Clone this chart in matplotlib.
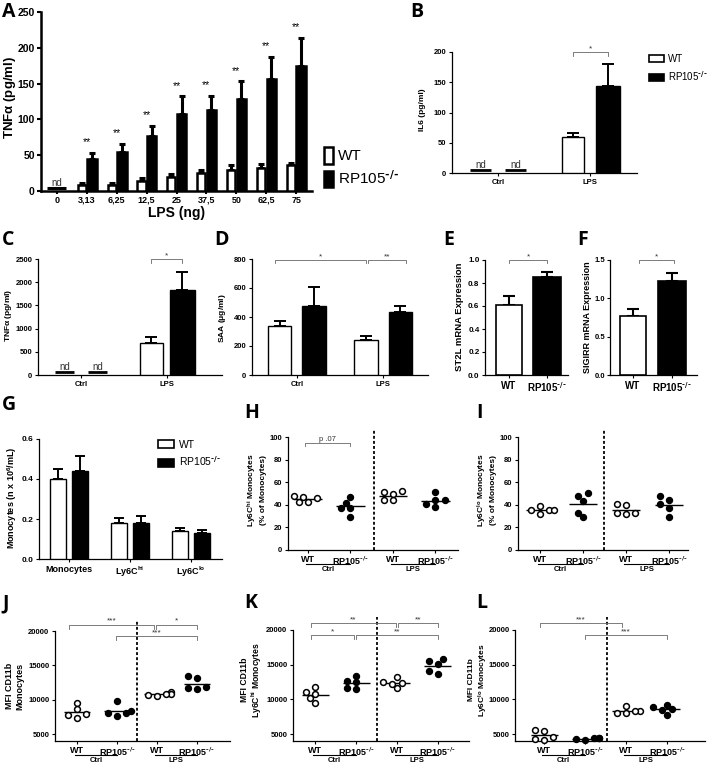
import numpy as np
import matplotlib.pyplot as plt
from matplotlib.patches import Patch
from matplotlib.ticker import FormatStrFormatter

plt.rcParams['font.family'] = ['Liberation Sans', 'DejaVu Sans']
plt.rcParams['mathtext.default'] = 'regular'
plt.rcParams['font.weight'] = 'bold'

KO = r'RP105$^{\text{-/-}}$'

# ---------------- data ----------------
# A: TNFa vs LPS dose (in vitro)
lps_doses = ['0', '3,13', '6,25', '12,5', '25', '37,5', '50', '62,5', '75']
a_wt = [np.nan, 8, 8, 14, 20, 25, 29, 32, 36]
a_wt_err = [0, 3, 3, 4, 4, 4, 7, 6, 3]
a_rp = [np.nan, 45, 55, 77, 108, 113, 128, 156, 174]
a_rp_err = [0, 8, 11, 14, 24, 20, 25, 31, 40]
a_stars = ['', '**', '**', '**', '**', '**', '**', '**', '**']
a_nd = 4

treat = ['Ctrl', 'LPS']
# B: IL6
b_wt = [np.nan, 60]
b_wt_err = [0, 6]
b_rp = [np.nan, 144]
b_rp_err = [0, 36]
b_nd = 5
# C: TNFa plasma
c_wt = [np.nan, 700]
c_wt_err = [0, 110]
c_rp = [np.nan, 1840]
c_rp_err = [0, 380]
c_nd = 60
# D: SAA
d_wt = [338, 240]
d_wt_err = [35, 30]
d_rp = [478, 432]
d_rp_err = [130, 42]
# E, F: mRNA expression
geno = ['WT', KO]
e_vals = [0.61, 0.85]
e_err = [0.08, 0.05]
f_vals = [0.77, 1.22]
f_err = [0.09, 0.11]
# G: monocyte counts
g_groups = ['Monocytes', r'Ly6C$^{hi}$', r'Ly6C$^{lo}$']
g_wt = [0.40, 0.18, 0.14]
g_wt_err = [0.05, 0.025, 0.015]
g_rp = [0.44, 0.18, 0.13]
g_rp_err = [0.075, 0.035, 0.015]

# H-L: individual mice (WT ctrl, RP ctrl, WT LPS, RP LPS)
h_wt_ctrl = [46, 48, 47, 42.5, 42.5]
h_rp_ctrl = [37.5, 42, 47, 29, 37]
h_wt_lps = [51, 50, 52, 44, 44]
h_rp_lps = [44, 51, 44, 38, 41]

i_wt_ctrl = [35, 38.5, 35, 32, 35]
i_rp_ctrl = [47.5, 50.5, 43, 33, 29]
i_wt_lps = [40.5, 39.5, 33, 31.5, 33]
i_rp_lps = [41, 44.5, 47.5, 37.5, 29]

j_wt_ctrl = [9550, 8600, 7900, 7400, 7800]
j_rp_ctrl = [9800, 8100, 7700, 8100, 8400]
j_wt_lps = [11200, 10900, 10700, 10500, 10800]
j_rp_lps = [13400, 13200, 11500, 11700, 11800]

k_wt_ctrl = [11800, 11100, 10800, 10200, 9500]
k_rp_ctrl = [12600, 12500, 13400, 11500, 11700]
k_wt_lps = [13200, 12300, 12500, 11600, 12200]
k_rp_lps = [15550, 15750, 15150, 13600, 14100]

l_wt_ctrl = [5600, 5400, 4600, 4300, 4200]
l_rp_ctrl = [4400, 4500, 4400, 4200, 4300]
l_wt_lps = [9000, 8300, 8100, 8300, 8000]
l_rp_lps = [9200, 8900, 8500, 8600, 7800]

scatter_labels = ['WT', KO, 'WT', KO]

# ---------------- helpers ----------------
W, H = 708, 765
fig = plt.figure(figsize=(W / 100, H / 100), dpi=100)


def add_ax(l, t, r, b, lw=0.9):
    ax = fig.add_axes([l / W, 1 - b / H, (r - l) / W, (b - t) / H])
    ax.spines[['top', 'right']].set_visible(False)
    ax.spines[['left', 'bottom']].set_linewidth(lw)
    ax.px = (r - l, b - t)
    return ax


def letter(x, y, s):
    fig.text(x / W, 1 - y / H, s, fontsize=14, fontweight='bold',
             family='Open Sans', va='top', ha='left')


def ylab(x, y, s, fs=6):
    fig.text(x / W, 1 - y / H, s, fontsize=fs, fontweight='bold',
             rotation=90, ha='center', va='center', linespacing=1.15)


def bars(ax, x, vals, errs, face, width, lw=1.0, cap=3):
    x = np.asarray(x, float)
    vals = np.asarray(vals, float)
    errs = np.asarray(errs, float)
    m = ~np.isnan(vals)
    ax.bar(x[m], vals[m], width, color=face, edgecolor='black',
           linewidth=lw, zorder=3)
    ax.errorbar(x[m], vals[m], yerr=[np.zeros(m.sum()), errs[m]], fmt='none',
                ecolor='black', elinewidth=lw + 0.4, capsize=cap,
                capthick=lw + 0.4, zorder=2)


def nd(ax, x, level, width, fs=7, lw=2):
    ax.hlines(level, x - width / 2, x + width / 2, color='black', lw=lw,
              zorder=3)
    ax.text(x, level, 'nd', ha='center', va='bottom', fontsize=fs,
            fontweight='normal', color='#333333')


def bracket(ax, x1, x2, y, h, s, fs=6):
    ax.plot([x1, x1, x2, x2], [y - h, y, y, y - h], color='#666666',
            lw=0.6, clip_on=False)
    ax.text((x1 + x2) / 2, y, s, ha='center', va='bottom', fontsize=fs,
            fontweight='normal', color='#333333')


def style_ticks(ax, fs):
    ax.tick_params(labelsize=fs, width=0.8, length=2.5, pad=1.5)


def swarm(ax, vals, xlim, ylim, d=6.2):
    sx = ax.px[0] / (xlim[1] - xlim[0])
    sy = ax.px[1] / (ylim[1] - ylim[0])
    placed = []
    offs = np.zeros(len(vals))
    for i in np.argsort(vals):
        y = vals[i] * sy
        for c in [0, -1, 1, -2, 2, -3, 3]:
            cx = c * d * 0.75
            if all(np.hypot(cx - px, y - py) >= d for px, py in placed):
                break
        placed.append((cx, y))
        offs[i] = cx / sx
    return offs


def scatter_panel(ax, groups, xlim, ylim, yticks, vline, vtop, fs=5.5):
    for i, vals in enumerate(groups):
        vals = np.asarray(vals, float)
        offs = swarm(ax, vals, xlim, ylim)
        filled = i % 2 == 1
        ax.plot(i + offs, vals, 'o', ms=4.2,
                mfc='black' if filled else 'white', mec='black', mew=1.1,
                ls='none', zorder=3, clip_on=False)
        ax.hlines(vals.mean(), i - 0.33, i + 0.33, color='black', lw=1.0,
                  zorder=2)
    ax.set_xlim(*xlim)
    ax.set_ylim(*ylim)
    ax.set_yticks(yticks)
    ax.set_xticks(range(4))
    ax.set_xticklabels(scatter_labels)
    style_ticks(ax, fs)
    ax.tick_params(axis='x', labelsize=6.5, length=2)
    ax.plot([vline, vline], [ylim[0], vtop], color='black',
            ls=(0, (1.6, 1.2)), lw=1.3, clip_on=False)
    tr = ax.get_xaxis_transform()
    yl = -14 / ax.px[1]
    for p0, name in [(0, 'Ctrl'), (2, 'LPS')]:
        ax.plot([p0 - 0.05, p0 + 1.0], [yl, yl], color='black', lw=0.8,
                transform=tr, clip_on=False)
        ax.text(p0 + 0.48, yl - 2 / ax.px[1], name, transform=tr,
                ha='center', va='top', fontsize=5.5)


# ---------------- A ----------------
ax = add_ax(41, 12, 312, 191, lw=1.8)
x = np.arange(len(lps_doses))
bars(ax, x - 0.17, a_wt, a_wt_err, 'white', 0.27, lw=1.8, cap=2.5)
bars(ax, x + 0.17, a_rp, a_rp_err, 'black', 0.32, lw=1.8, cap=2.5)
nd(ax, 0, a_nd, 0.64, fs=7, lw=2.2)
for i, s in enumerate(a_stars):
    if s:
        ax.text(i, a_rp[i] + a_rp_err[i] + 8, s, ha='center', va='bottom',
                fontsize=7.5, fontweight='normal')
ax.set_xlim(-0.53, 8.53)
ax.set_ylim(0, 250)
ax.set_yticks(np.arange(0, 251, 50))
ax.set_xticks(x)
ax.set_xticklabels(lps_doses)
ax.tick_params(labelsize=7.5, width=1.5, length=3, pad=1.5)
ax.tick_params(axis='x', labelsize=6.5, length=2)
letter(2, 2, 'A')
ylab(10, 97, r'TNF$\alpha$ (pg/ml)', fs=9.5)
fig.text(177 / W, 1 - 213 / H, 'LPS (ng)', fontsize=10, fontweight='bold',
         ha='center', va='center')
fig.legend([Patch(fc='white', ec='black', lw=1.8),
            Patch(fc='black', ec='black', lw=1.8)],
           ['WT', KO], loc='upper left',
           bbox_to_anchor=(324 / W, 1 - 147 / H), frameon=False,
           prop={'size': 11, 'weight': 'normal'}, handlelength=0.6,
           handleheight=1.3, handletextpad=0.3, labelspacing=0.35,
           borderpad=0, borderaxespad=0)

# ---------------- B ----------------
ax = add_ax(452, 52, 637, 173)
x = np.arange(2)
bars(ax, x - 0.19, b_wt, b_wt_err, 'white', 0.24, cap=4.5)
bars(ax, x + 0.19, b_rp, b_rp_err, 'black', 0.26, cap=4.5)
nd(ax, -0.19, b_nd, 0.22)
nd(ax, 0.19, b_nd, 0.22)
bracket(ax, 1 - 0.19, 1 + 0.19, 200, 6, '*')
ax.set_xlim(-0.5, 1.51)
ax.set_ylim(0, 200)
ax.set_yticks(np.arange(0, 201, 50))
ax.set_xticks(x)
ax.set_xticklabels(treat)
style_ticks(ax, 5.5)
letter(410, 2, 'B')
ylab(423, 110, 'IL6 (pg/ml)')
fig.legend([Patch(fc='white', ec='black', lw=1.2),
            Patch(fc='black', ec='black', lw=1.2)],
           ['WT', KO], loc='upper left',
           bbox_to_anchor=(649 / W, 1 - 54 / H), frameon=False,
           prop={'size': 7, 'weight': 'normal'}, handlelength=1.5,
           handleheight=0.8, handletextpad=0.45, labelspacing=0.5,
           borderpad=0, borderaxespad=0)

# ---------------- C ----------------
ax = add_ax(38, 259, 222, 375)
bars(ax, x - 0.18, c_wt, c_wt_err, 'white', 0.26, cap=4)
bars(ax, x + 0.18, c_rp, c_rp_err, 'black', 0.3, cap=4)
nd(ax, -0.19, c_nd, 0.22)
nd(ax, 0.19, c_nd, 0.22)
bracket(ax, 1 - 0.18, 1 + 0.18, 2500, 80, '*')
ax.set_xlim(-0.5, 1.64)
ax.set_ylim(0, 2500)
ax.set_yticks(np.arange(0, 2501, 500))
ax.set_xticks(x)
ax.set_xticklabels(treat)
style_ticks(ax, 5.5)
letter(2, 230, 'C')
ylab(9, 315, r'TNF$\alpha$ (pg/ml)')

# ---------------- D ----------------
ax = add_ax(252, 259, 428, 375)
bars(ax, x - 0.2, d_wt, d_wt_err, 'white', 0.27, cap=4)
bars(ax, x + 0.2, d_rp, d_rp_err, 'black', 0.27, cap=4)
bracket(ax, -0.25, 0.8, 790, 20, '*')
bracket(ax, 0.83, 1.27, 790, 20, '**')
ax.set_xlim(-0.52, 1.52)
ax.set_ylim(0, 800)
ax.set_yticks(np.arange(0, 801, 200))
ax.set_xticks(x)
ax.set_xticklabels(treat)
style_ticks(ax, 5.5)
letter(214, 230, 'D')
ylab(223, 318, r'SAA ($\mu$g/ml)')

# ---------------- E ----------------
ax = add_ax(485, 260, 568, 375)
ax.bar(0, e_vals[0], 0.68, color='white', edgecolor='black', lw=1.2, zorder=3)
ax.bar(1, e_vals[1], 0.72, color='black', edgecolor='black', lw=1.2, zorder=3)
ax.errorbar([0, 1], e_vals, yerr=[[0, 0], e_err], fmt='none', ecolor='black',
            elinewidth=1.5, capsize=4, capthick=1.5, zorder=2)
bracket(ax, 0, 1, 1.0, 0.03, '*')
ax.set_xlim(-0.63, 1.55)
ax.set_ylim(0, 1.0)
ax.set_yticks(np.arange(0, 1.01, 0.2))
ax.yaxis.set_major_formatter(FormatStrFormatter('%.1f'))
ax.set_xticks([0, 1])
ax.set_xticklabels(geno)
style_ticks(ax, 5.8)
ax.tick_params(axis='x', labelsize=7)
letter(443, 230, 'E')
ylab(460, 317, 'ST2L mRNA Expression', fs=6.8)

# ---------------- F ----------------
ax = add_ax(610, 260, 697, 375)
ax.bar(0, f_vals[0], 0.65, color='white', edgecolor='black', lw=1.2, zorder=3)
ax.bar(1, f_vals[1], 0.72, color='black', edgecolor='black', lw=1.2, zorder=3)
ax.errorbar([0, 1], f_vals, yerr=[[0, 0], f_err], fmt='none', ecolor='black',
            elinewidth=1.5, capsize=4, capthick=1.5, zorder=2)
bracket(ax, 0.15, 1.05, 1.5, 0.045, '*')
ax.set_xlim(-0.59, 1.64)
ax.set_ylim(0, 1.5)
ax.set_yticks(np.arange(0, 1.51, 0.5))
ax.yaxis.set_major_formatter(FormatStrFormatter('%.1f'))
ax.set_xticks([0, 1])
ax.set_xticklabels(geno)
style_ticks(ax, 5.5)
ax.tick_params(axis='x', labelsize=7, pad=1.5)
ax.tick_params(axis='y', pad=1)
letter(577, 230, 'F')
ylab(588, 317, 'SIGIRR mRNA Expression', fs=6.5)

# ---------------- G ----------------
ax = add_ax(39, 439, 222, 559)
x = np.arange(3)
bars(ax, x - 0.18, g_wt, g_wt_err, 'white', 0.26, cap=3.5)
bars(ax, x + 0.18, g_rp, g_rp_err, 'black', 0.26, cap=3.5)
ax.set_xlim(-0.49, 2.51)
ax.set_ylim(0, 0.6)
ax.set_yticks(np.arange(0, 0.61, 0.2))
ax.yaxis.set_major_formatter(FormatStrFormatter('%.1f'))
ax.set_xticks(x)
ax.set_xticklabels(g_groups)
style_ticks(ax, 6)
ax.tick_params(axis='x', labelsize=6.5)
letter(2, 395, 'G')
ylab(12, 498, r'Monocytes (n x 10$^{6}$/mL)', fs=6.5)
fig.legend([Patch(fc='white', ec='black', lw=1.2),
            Patch(fc='black', ec='black', lw=1.2)],
           ['WT', KO], loc='upper left',
           bbox_to_anchor=(158 / W, 1 - 440 / H), frameon=False,
           prop={'size': 7.5, 'weight': 'normal'}, handlelength=1.5,
           handleheight=0.8, handletextpad=0.5, labelspacing=0.45,
           borderpad=0, borderaxespad=0)

# ---------------- H ----------------
ax = add_ax(288, 437, 458, 550)
scatter_panel(ax, [h_wt_ctrl, h_rp_ctrl, h_wt_lps, h_rp_lps],
              (-0.47, 3.53), (0, 100), np.arange(0, 101, 20), 1.55, 106)
bracket(ax, -0.07, 1.0, 95, 3, 'p .07', fs=5.5)
letter(244, 403, 'H')
ylab(256, 490, 'Ly6C$^{hi}$ Monocytes\n(% of Monocytes)')

# ---------------- I ----------------
ax = add_ax(518, 437, 688, 550)
scatter_panel(ax, [i_wt_ctrl, i_rp_ctrl, i_wt_lps, i_rp_lps],
              (-0.51, 3.44), (0, 100), np.arange(0, 101, 20), 1.49, 106)
letter(476, 403, 'I')
ylab(486, 490, 'Ly6C$^{lo}$ Monocytes\n(% of Monocytes)')

# ---------------- J ----------------
mfi_ticks = np.arange(5000, 20001, 5000)
ax = add_ax(55, 631, 230, 741)
scatter_panel(ax, [j_wt_ctrl, j_rp_ctrl, j_wt_lps, j_rp_lps],
              (-0.55, 3.83), (4000, 20000), mfi_ticks, 1.5, 21600)
bracket(ax, -0.2, 1.93, 20900, 550, '***')
bracket(ax, 1.97, 3.0, 20900, 550, '*')
bracket(ax, 0.97, 3.0, 19250, 550, '***')
letter(2, 593, 'J')
ylab(15, 686, 'MFI CD11b\nMonocytes', fs=6.5)

# ---------------- K ----------------
ax = add_ax(293, 630, 469, 741)
scatter_panel(ax, [k_wt_ctrl, k_rp_ctrl, k_wt_lps, k_rp_lps],
              (-0.54, 3.76), (4000, 20000), mfi_ticks, 1.51, 21900)
bracket(ax, -0.1, 1.98, 20950, 550, '**')
bracket(ax, 2.02, 3.0, 20950, 550, '**')
bracket(ax, -0.1, 0.95, 19250, 550, '*')
bracket(ax, 0.99, 3.0, 19250, 550, '**')
letter(244, 593, 'K')
ylab(252, 680, 'MFI CD11b\nLy6C$^{hi}$ Monocytes', fs=6.2)

# ---------------- L ----------------
ax = add_ax(515, 630, 705, 741)
scatter_panel(ax, [l_wt_ctrl, l_rp_ctrl, l_wt_lps, l_rp_lps],
              (-0.71, 3.93), (4000, 20000), mfi_ticks, 1.54, 21900)
ax.tick_params(axis='y', pad=1)
bracket(ax, -0.1, 1.9, 20950, 550, '***')
bracket(ax, 1.0, 3.0, 19250, 550, '***')
letter(476, 593, 'L')
ylab(479, 680, 'MFI CD11b\nLy6C$^{lo}$ Monocytes', fs=6)

fig.savefig('out.png', dpi=100)
